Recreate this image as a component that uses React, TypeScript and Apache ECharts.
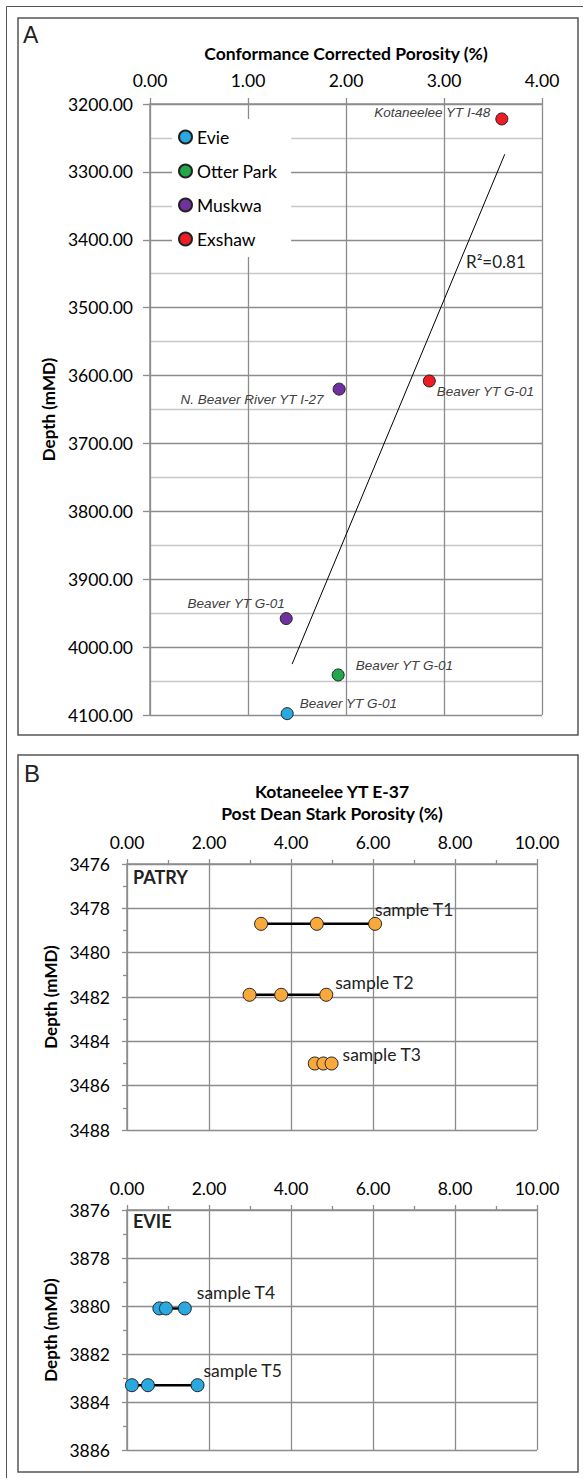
import React, { useEffect, useRef } from "react";
import * as echarts from "echarts";

// ---------- Panel A data ----------
const evieA: number[][] = [[1.4, 4098]];
const evieWellsA = ["Beaver YT G-01"];
const otterParkA: number[][] = [[1.92, 4041]];
const otterParkWellsA = ["Beaver YT G-01"];
const muskwaA: number[][] = [[1.93, 3620], [1.39, 3958]];
const muskwaWellsA = ["N. Beaver River YT I-27", "Beaver YT G-01"];
const exshawA: number[][] = [[3.59, 3222], [2.85, 3608]];
const exshawWellsA = ["Kotaneelee YT I-48", "Beaver YT G-01"];
const trendA: number[][] = [[1.45, 4025], [3.62, 3274]];
const formations = ["Evie", "Otter Park", "Muskwa", "Exshaw"];
const r2Text = "R²=0.81";

// ---------- Panel B data ----------
const patrySamples = ["sample T1", "sample T2", "sample T3"];
const patryDepths = [3478.7, 3481.9, 3485.0];
const patryPorosity: number[][] = [
  [3.27, 4.63, 6.05],
  [2.99, 3.76, 4.86],
  [4.58, 4.79, 4.99],
];
const evieSamples = ["sample T4", "sample T5"];
const evieDepths = [3880.1, 3883.3];
const eviePorosity: number[][] = [
  [0.79, 0.95, 1.41],
  [0.12, 0.51, 1.72],
];

const FONT = "Lato";
const GRID = "#8c8c8c";
const TXT = "#000";
const FS = 17.5;

export default function App() {
  const ref = useRef<HTMLDivElement>(null);
  useEffect(() => {
    document.body.style.margin = "0";
    if (!ref.current) return;
    const chart = echarts.init(ref.current, null, { renderer: "svg" });

    const fmt2 = (v: number) => v.toFixed(2);
    const fmt0 = (v: number) => String(v);
    const axisLineStyle = { color: GRID, width: 1.5 };

    const ptLabelBase = {
      show: true,
      fontFamily: "Liberation Sans",
      fontStyle: "italic",
      fontSize: 13.5,
      color: "#404040",
    };
    const labelCfgA: Record<string, any[]> = {
      Evie: [{ position: "right", offset: [1, -10] }],
      "Otter Park": [{ position: "right", offset: [6, -9] }],
      Muskwa: [
        { position: "left", offset: [-4, 10] },
        { position: "top", offset: [-50, 3] },
      ],
      Exshaw: [
        { position: "left", offset: [0, -6] },
        { position: "right", offset: [-4, 11] },
      ],
    };
    const colorsA: Record<string, string> = {
      Evie: "#29A9E0",
      "Otter Park": "#20A84A",
      Muskwa: "#7030A0",
      Exshaw: "#EE1C25",
    };
    const dataA: Record<string, number[][]> = {
      Evie: evieA,
      "Otter Park": otterParkA,
      Muskwa: muskwaA,
      Exshaw: exshawA,
    };
    const wellsA: Record<string, string[]> = {
      Evie: evieWellsA,
      "Otter Park": otterParkWellsA,
      Muskwa: muskwaWellsA,
      Exshaw: exshawWellsA,
    };

    const scatterA = formations.map((f) => ({
      name: f,
      type: "scatter",
      xAxisIndex: 0,
      yAxisIndex: 0,
      symbol: "circle",
      symbolSize: 12,
      itemStyle: { color: colorsA[f], borderColor: "#222", borderWidth: 1, opacity: 1 },
      z: 5,
      data: dataA[f].map((p, i) => ({
        value: p,
        label: { ...ptLabelBase, ...labelCfgA[f][i], formatter: wellsA[f][i] },
      })),
    }));

    const sampleLabel = {
      show: true,
      fontFamily: FONT,
      fontSize: FS,
      color: "#222",
    };
    const patryOffsets = [
      [-12, -14],
      [-3, -12],
      [-1, -9],
    ];
    const evieOffsets = [
      [0, -16],
      [-6, -15],
    ];

    const mkSampleSeries = (
      names: string[],
      depths: number[],
      vals: number[][],
      offsets: number[][],
      color: string,
      axisIdx: number
    ) =>
      names.map((n, si) => ({
        name: n,
        type: "line",
        xAxisIndex: axisIdx,
        yAxisIndex: axisIdx,
        symbol: "circle",
        symbolSize: 13,
        showSymbol: true,
        lineStyle: { color: "#000", width: 2.5 },
        itemStyle: { color, borderColor: "#222", borderWidth: 1 },
        z: 5,
        data: vals[si].map((x, i) => ({
          value: [x, depths[si]],
          label:
            i === vals[si].length - 1
              ? { ...sampleLabel, position: "right", offset: offsets[si], formatter: n }
              : { show: false },
        })),
      }));

    const xAxisB = (idx: number, withName: boolean) => ({
      type: "value",
      gridIndex: idx,
      position: "top",
      min: 0,
      max: 10,
      interval: 2,
      name: withName ? "Kotaneelee YT E-37\nPost Dean Stark Porosity (%)" : "",
      nameLocation: "middle",
      nameGap: 40,
      nameTextStyle: { fontFamily: FONT, fontWeight: "bold", fontSize: FS, color: TXT, lineHeight: 22 },
      axisLine: { show: true, lineStyle: axisLineStyle },
      axisTick: { show: true, length: 5, lineStyle: { color: GRID, width: 1.3 } },
      minorTick: { show: true, splitNumber: 2, length: 4, lineStyle: { color: GRID, width: 1.3 } },
      axisLabel: { formatter: fmt2, fontFamily: FONT, fontSize: FS, color: TXT, margin: 13 },
      splitLine: { show: true, lineStyle: { color: GRID, width: 1.3 } },
    });
    const yAxisB = (idx: number, min: number, max: number) => ({
      type: "value",
      gridIndex: idx,
      min,
      max,
      interval: 2,
      inverse: true,
      name: "Depth (mMD)",
      nameLocation: "middle",
      nameRotate: 90,
      nameGap: 63,
      nameTextStyle: { fontFamily: FONT, fontWeight: "bold", fontSize: 17, color: TXT },
      axisLine: { show: true, lineStyle: axisLineStyle },
      axisTick: { show: true, length: 5, lineStyle: { color: GRID, width: 1.3 } },
      minorTick: { show: true, splitNumber: 2, length: 4, lineStyle: { color: GRID, width: 1.3 } },
      axisLabel: { formatter: fmt0, fontFamily: FONT, fontSize: FS, color: TXT, margin: 17 },
      splitLine: { show: true, lineStyle: { color: GRID, width: 1.3 } },
    });

    const option: any = {
      animation: false,
      backgroundColor: "#fff",
      grid: [
        { left: 150, top: 104, width: 392, height: 611 },
        { left: 127, top: 864, width: 410, height: 266 },
        { left: 127, top: 1210, width: 410, height: 240 },
      ],
      legend: {
        data: formations,
        orient: "vertical",
        left: 172,
        top: 119,
        backgroundColor: "#fff",
        padding: [9, 14, 9, 6],
        itemGap: 16,
        itemWidth: 13,
        itemHeight: 13,
        icon: "circle",
        selectedMode: false,
        textStyle: { fontFamily: FONT, fontSize: FS, color: TXT, lineHeight: 18 },
        z: 4,
      },
      xAxis: [
        {
          type: "value",
          gridIndex: 0,
          position: "top",
          min: 0,
          max: 4,
          interval: 1,
          name: "Conformance Corrected Porosity (%)",
          nameLocation: "middle",
          nameGap: 42,
          nameTextStyle: { fontFamily: FONT, fontWeight: "bold", fontSize: FS, color: TXT },
          axisLine: { show: true, lineStyle: axisLineStyle },
          axisTick: { show: true, length: 6, lineStyle: { color: GRID, width: 1.3 } },
          axisLabel: { formatter: fmt2, fontFamily: FONT, fontSize: FS, color: TXT, margin: 15 },
          splitLine: { show: true, lineStyle: { color: GRID, width: 1.3 } },
        },
        xAxisB(1, true),
        xAxisB(2, false),
      ],
      yAxis: [
        {
          type: "value",
          gridIndex: 0,
          min: 3200,
          max: 4100,
          interval: 100,
          inverse: true,
          name: "Depth (mMD)",
          nameLocation: "middle",
          nameRotate: 90,
          nameGap: 89,
          nameTextStyle: { fontFamily: FONT, fontWeight: "bold", fontSize: 17, color: TXT },
          axisLine: { show: true, lineStyle: axisLineStyle },
          axisTick: { show: true, length: 7, lineStyle: { color: GRID, width: 1.3 } },
          minorTick: { show: false, splitNumber: 2 },
          minorSplitLine: { show: true, lineStyle: { color: "#c8c8c8", width: 1.3 } },
          axisLabel: { formatter: fmt2, fontFamily: FONT, fontSize: FS, color: TXT, margin: 17 },
          splitLine: { show: true, lineStyle: { color: GRID, width: 1.3 } },
        },
        yAxisB(1, 3476, 3488),
        yAxisB(2, 3876, 3886),
      ],
      series: [
        {
          name: "trend",
          type: "line",
          xAxisIndex: 0,
          yAxisIndex: 0,
          showSymbol: false,
          symbol: "none",
          lineStyle: { color: "#000", width: 1 },
          z: 3,
          data: trendA,
        },
        ...scatterA,
        ...mkSampleSeries(patrySamples, patryDepths, patryPorosity, patryOffsets, "#F9A83C", 1),
        ...mkSampleSeries(evieSamples, evieDepths, eviePorosity, evieOffsets, "#29A9E0", 2),
      ],
      graphic: [
        { type: "line", shape: { x1: 6.5, y1: 6.5, x2: 583, y2: 6.5 }, style: { stroke: "#555", lineWidth: 1 } },
        { type: "line", shape: { x1: 6.5, y1: 6.5, x2: 6.5, y2: 1478 }, style: { stroke: "#555", lineWidth: 1 } },
        { type: "rect", shape: { x: 18, y: 18, width: 560, height: 717 }, style: { fill: "none", stroke: "#555", lineWidth: 1.5 } },
        { type: "rect", shape: { x: 18, y: 755, width: 560, height: 717 }, style: { fill: "none", stroke: "#555", lineWidth: 1.5 } },
        { type: "text", x: 23, y: 35, style: { text: "A", font: "23px 'Liberation Sans'", fill: "#222", verticalAlign: "middle" } },
        { type: "text", x: 24, y: 773, style: { text: "B", font: "24px 'Liberation Sans'", fill: "#222", verticalAlign: "middle" } },
        { type: "text", x: 133, y: 877, style: { text: "PATRY", font: "bold 18px Lato", fill: "#222", verticalAlign: "middle" } },
        { type: "text", x: 133, y: 1221, style: { text: "EVIE", font: "bold 18px Lato", fill: "#222", verticalAlign: "middle" } },
        { type: "text", x: 466, y: 261, z: 10, style: { text: r2Text, font: "17px Lato", fill: "#222", verticalAlign: "middle" } },
      ],
    };
    chart.setOption(option);
    return () => chart.dispose();
  }, []);
  return <div ref={ref} style={{ width: 584, height: 1479 }} />;
}
